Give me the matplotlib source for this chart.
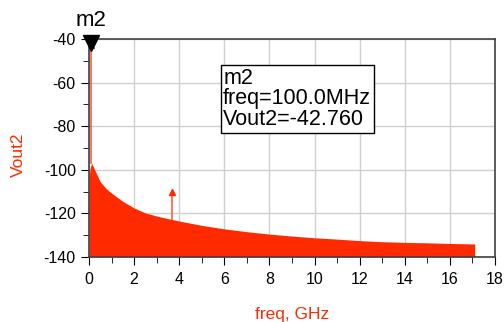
import matplotlib
matplotlib.use('Agg')
import matplotlib.pyplot as plt

plt.rcParams['font.family'] = ['Liberation Sans', 'DejaVu Sans']
plt.rcParams['axes.unicode_minus'] = False

# spectrum envelope (GHz, dB)
freq = [0, 0.05, 0.12, 0.25, 0.5, 0.75, 1.0, 1.5, 2.0, 2.5, 3.0, 3.5, 4.0,
        5.0, 6.0, 7.0, 8.0, 9.0, 10.0, 11.0, 12.0, 13.0, 14.0, 15.0, 16.0, 17.0, 17.1]
vout = [-104, -99, -97, -100, -105.5, -108.5, -110.7, -114.5, -117.5, -119.8,
        -121.2, -122.4, -123.5, -125.5, -127.1, -128.4, -129.5, -130.4, -131.2, -131.8,
        -132.5, -133, -133.3, -133.5, -133.8, -134, -134]

# discrete tones
tone_f = [0.1, 3.7]
tone_base = [-97.5, -123]
tone_top = [-42.76, -110]

red = '#ff2a00'

fig = plt.figure(figsize=(5.04, 3.22), dpi=100)
ax = fig.add_axes([0.1766, 0.2019, 0.8056, 0.677])

ax.fill_between(freq, vout, -140, color=red, lw=0)
ax.vlines(tone_f, tone_base, tone_top, color='#ff6048', lw=1.2)
ax.plot(tone_f, tone_top, '^', color=red, ms=4)

ax.set_xlim(0, 18)
ax.set_ylim(-140, -40)
ax.set_xticks(range(0, 19, 2))
ax.set_xticks(range(1, 18, 2), minor=True)
ax.set_yticks(range(-140, -39, 20))
ax.set_yticks(range(-130, -40, 20), minor=True)
ax.grid(True, color='#d0d0d0', lw=1)
ax.set_axisbelow(True)
ax.tick_params(which='major', direction='out', length=6, labelsize=11.5)
ax.tick_params(axis='x', which='major', pad=5)
ax.tick_params(which='minor', direction='out', length=4)
for s in ax.spines.values():
    s.set_color('#404040')
    s.set_linewidth(1.2)

ax.set_xlabel('freq, GHz', color=red, fontsize=12.5, labelpad=14)
ax.set_ylabel('Vout2', color=red, fontsize=12.5, va='center')
ax.yaxis.set_label_coords(-0.175, 0.47)

# marker m2
ax.plot([0.1], [-42], 'v', color='black', ms=12, clip_on=False, zorder=5)
ax.text(0.1, -36.5, 'm2', ha='center', va='bottom', fontsize=16)
ax.text(5.95, -67.5, 'm2\nfreq=100.0MHz\nVout2=-42.760', fontsize=15.5,
        va='center', ha='left', linespacing=0.98,
        bbox=dict(facecolor='white', edgecolor='black', boxstyle='square,pad=0.12'))

fig.savefig('out.png', dpi=100)
